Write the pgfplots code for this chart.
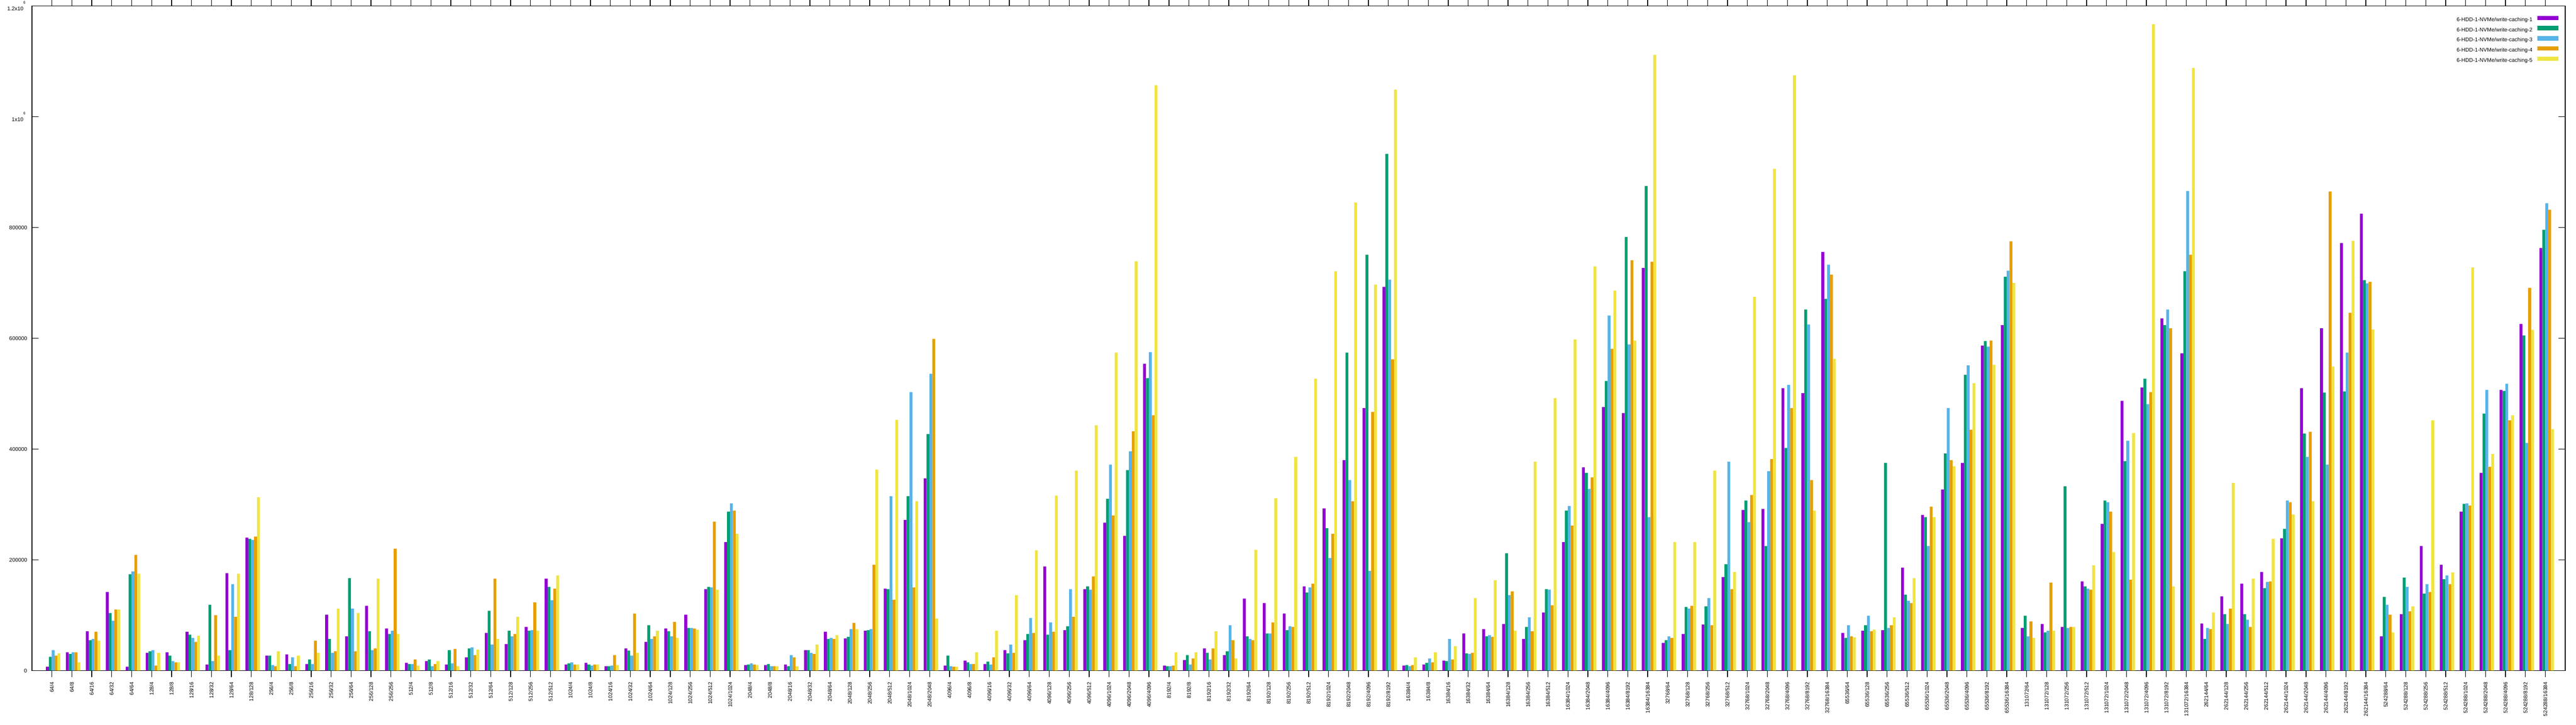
\documentclass[border=0pt]{standalone}
\usepackage{fontspec}
\setmainfont{Liberation Sans}
\usepackage{pgfplots}
\usepackage{pgfplotstable}
\pgfplotsset{compat=1.18}
\definecolor{c1}{HTML}{9400D3}
\definecolor{c2}{HTML}{009E73}
\definecolor{c3}{HTML}{56B4E9}
\definecolor{c4}{HTML}{E69F00}
\definecolor{c5}{HTML}{F0E442}
\newcommand\tf{\fontsize{1.6}{1.9}\selectfont}
\pgfplotsset{swatch/.style={legend image code/.code={\fill[##1] (0pt,-0.08pt) rectangle (6.2pt,1.22pt);}}}
\pgfplotstableread{
x p g b o y
0 7000 25000 37000 27000 31000
1 33000 30000 33000 33000 15000
2 71000 55000 57000 70000 54000
3 142000 104000 90000 110000 110000
4 7000 174000 179000 209000 175000
5 32000 35000 37000 9000 32000
6 33000 27000 17000 15000 15000
7 70000 65000 59000 52000 63000
8 11000 119000 17000 100000 27000
9 176000 37000 156000 97000 175000
10 240000 238000 236000 242000 313000
11 27000 27000 10000 8000 35000
12 29000 12000 24000 8000 27000
13 12000 20000 12000 54000 32000
14 101000 57000 32000 35000 112000
15 62000 167000 112000 35000 104000
16 117000 71000 37000 40000 166000
17 76000 66000 72000 220000 66000
18 14000 12000 12000 20000 9000
19 17000 20000 8000 12000 17000
20 11000 37000 13000 39000 8000
21 24000 40000 42000 28000 38000
22 68000 108000 47000 166000 57000
23 48000 72000 62000 66000 97000
24 79000 72000 73000 123000 72000
25 166000 151000 127000 148000 172000
26 11000 13000 15000 11000 11000
27 14000 11000 9000 11000 11000
28 8000 8000 9000 28000 10000
29 40000 36000 27000 103000 32000
30 52000 82000 57000 62000 72000
31 76000 71000 62000 88000 59000
32 101000 77000 77000 76000 74000
33 147000 151000 150000 269000 146000
34 232000 287000 302000 289000 247000
35 10000 11000 13000 11000 10000
36 10000 12000 8000 8000 8000
37 11000 8000 28000 24000 8000
38 37000 37000 32000 30000 47000
39 70000 57000 59000 57000 64000
40 58000 61000 75000 86000 75000
41 72000 73000 75000 191000 363000
42 148000 147000 315000 128000 453000
43 272000 315000 503000 150000 306000
44 347000 427000 536000 599000 94000
45 9000 27000 8000 7000 7000
46 18000 15000 12000 12000 33000
47 12000 16000 11000 24000 72000
48 37000 31000 47000 32000 136000
49 55000 66000 95000 68000 217000
50 188000 65000 87000 70000 316000
51 73000 80000 147000 97000 361000
52 147000 152000 146000 170000 443000
53 267000 310000 372000 280000 574000
54 243000 362000 396000 432000 739000
55 554000 528000 575000 461000 1057000
56 9000 8000 8000 9000 33000
57 19000 28000 11000 22000 33000
58 40000 32000 20000 40000 71000
59 28000 35000 82000 55000 22000
60 130000 62000 57000 55000 218000
61 122000 67000 67000 87000 311000
62 103000 73000 80000 79000 386000
63 152000 141000 150000 157000 527000
64 293000 257000 203000 247000 721000
65 380000 574000 344000 306000 845000
66 474000 751000 180000 467000 697000
67 693000 933000 706000 562000 1049000
68 9000 10000 8000 10000 24000
69 11000 14000 22000 15000 33000
70 18000 17000 57000 20000 44000
71 67000 31000 30000 32000 131000
72 75000 62000 64000 61000 163000
73 84000 212000 136000 143000 72000
74 57000 79000 96000 71000 377000
75 105000 147000 146000 118000 492000
76 232000 289000 297000 262000 598000
77 367000 357000 328000 349000 730000
78 476000 523000 641000 581000 686000
79 465000 783000 589000 741000 596000
80 727000 875000 277000 738000 1112000
81 50000 55000 62000 59000 232000
82 66000 115000 112000 117000 232000
83 83000 116000 131000 82000 361000
84 169000 192000 377000 147000 178000
85 290000 307000 268000 317000 675000
86 292000 225000 360000 382000 906000
87 510000 402000 516000 474000 1075000
88 501000 652000 625000 344000 289000
89 756000 671000 733000 715000 563000
90 68000 59000 82000 62000 60000
91 72000 82000 99000 71000 74000
92 73000 375000 77000 82000 96000
93 186000 137000 126000 122000 167000
94 281000 277000 225000 296000 277000
95 327000 392000 474000 380000 369000
96 375000 534000 551000 435000 519000
97 587000 595000 585000 596000 552000
98 624000 711000 722000 775000 700000
99 77000 99000 62000 89000 59000
100 84000 69000 72000 159000 72000
101 79000 333000 77000 79000 79000
102 161000 152000 148000 146000 190000
103 265000 307000 304000 287000 214000
104 487000 378000 415000 164000 429000
105 511000 527000 481000 503000 1167000
106 636000 624000 652000 618000 152000
107 573000 721000 866000 751000 1088000
108 85000 57000 77000 75000 105000
109 134000 102000 84000 112000 339000
110 157000 102000 92000 79000 166000
111 178000 149000 160000 161000 238000
112 239000 256000 307000 304000 282000
113 510000 428000 386000 431000 306000
114 618000 502000 372000 865000 549000
115 772000 504000 574000 646000 776000
116 825000 705000 699000 702000 616000
117 62000 133000 119000 101000 69000
118 102000 168000 151000 107000 116000
119 225000 139000 156000 142000 452000
120 191000 165000 172000 156000 177000
121 287000 301000 302000 298000 728000
122 357000 464000 507000 368000 391000
123 507000 505000 518000 452000 461000
124 626000 605000 411000 691000 615000
125 763000 796000 844000 832000 436000
}\data
\begin{document}
\begin{tikzpicture}
\begin{axis}[
  scale only axis, width=755.3pt, height=198.1pt,
  xmin=-1, xmax=126, ymin=0, ymax=1200000,
  ybar, bar width=0.86pt,
  xtick={0,...,125},
  xticklabels={64/4,64/8,64/16,64/32,64/64,
    128/4,128/8,128/16,128/32,128/64,128/128,
    256/4,256/8,256/16,256/32,256/64,256/128,256/256,
    512/4,512/8,512/16,512/32,512/64,512/128,512/256,512/512,
    1024/4,1024/8,1024/16,1024/32,1024/64,1024/128,1024/256,1024/512,1024/1024,
    2048/4,2048/8,2048/16,2048/32,2048/64,2048/128,2048/256,2048/512,2048/1024,2048/2048,
    4096/4,4096/8,4096/16,4096/32,4096/64,4096/128,4096/256,4096/512,4096/1024,4096/2048,4096/4096,
    8192/4,8192/8,8192/16,8192/32,8192/64,8192/128,8192/256,8192/512,8192/1024,8192/2048,8192/4096,8192/8192,
    16384/4,16384/8,16384/16,16384/32,16384/64,16384/128,16384/256,16384/512,16384/1024,16384/2048,16384/4096,16384/8192,16384/16384,
    32768/64,32768/128,32768/256,32768/512,32768/1024,32768/2048,32768/4096,32768/8192,32768/16384,
    65536/64,65536/128,65536/256,65536/512,65536/1024,65536/2048,65536/4096,65536/8192,65536/16384,
    131072/64,131072/128,131072/256,131072/512,131072/1024,131072/2048,131072/4096,131072/8192,131072/16384,
    262144/64,262144/128,262144/256,262144/512,262144/1024,262144/2048,262144/4096,262144/8192,262144/16384,
    524288/64,524288/128,524288/256,524288/512,524288/1024,524288/2048,524288/4096,524288/8192,524288/16384},
  ytick={0,200000,400000,600000,800000,1000000,1200000},
  yticklabels={0,200000,400000,600000,800000,1x10\textsuperscript{6},1.2x10\textsuperscript{6}},
  scaled y ticks=false,
  xtick align=outside, ytick align=inside,
  major tick length=2pt,
  xticklabel shift=1.2pt,
  x tick label style={rotate=90, anchor=east, font=\tf, inner sep=0pt},
  y tick label style={font=\tf, inner sep=0pt, xshift=-1.2pt},
  axis line style={line width=0.25pt},
  every tick/.style={black, line width=0.2pt},
  legend cell align=right,
  legend plot pos=right,
  legend style={draw=none, fill=none, font=\tf, at={(rel axis cs:1,1)}, anchor=north east,
    xshift=-1.9pt, yshift=-2.7pt, row sep=1.05pt, column sep=1.5pt, inner sep=0pt,
    nodes={inner sep=0pt, text height=1.2pt, text depth=0.35pt}},
]
\addplot[fill=c1, draw=none, bar shift=-1.32pt, swatch] table[x=x,y=p]{\data};
\addplot[fill=c2, draw=none, bar shift=-0.46pt, swatch] table[x=x,y=g]{\data};
\addplot[fill=c3, draw=none, bar shift=0.40pt, swatch] table[x=x,y=b]{\data};
\addplot[fill=c4, draw=none, bar shift=1.26pt, swatch] table[x=x,y=o]{\data};
\addplot[fill=c5, draw=none, bar shift=2.12pt, swatch] table[x=x,y=y]{\data};
\legend{6-HDD-1-NVMe/write-caching-1,6-HDD-1-NVMe/write-caching-2,6-HDD-1-NVMe/write-caching-3,6-HDD-1-NVMe/write-caching-4,6-HDD-1-NVMe/write-caching-5}
\coordinate (bl) at (rel axis cs:0,0);
\coordinate (tr) at (rel axis cs:1,1);
\end{axis}
\pgfresetboundingbox
\path ([shift={(-9.5pt,-16.1pt)}]bl) rectangle ([shift={(3.2pt,1.8pt)}]tr);
\end{tikzpicture}
\end{document}
